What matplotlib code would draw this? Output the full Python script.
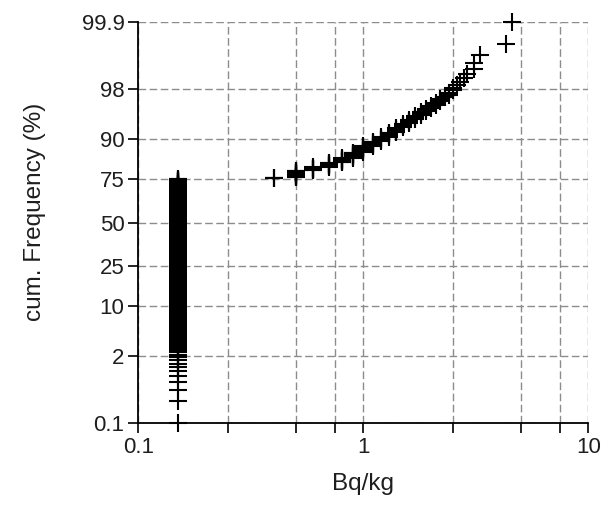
import math
import numpy as np
import matplotlib
matplotlib.use("Agg")
import matplotlib.pyplot as plt
from matplotlib.ticker import FixedLocator, NullLocator, NullFormatter, FixedFormatter

# ---- data: measured activity values (Bq/kg) and number of samples at each value
values = [0.15, 0.4, 0.5, 0.6, 0.7, 0.8, 0.9, 1.0, 1.1, 1.2, 1.3, 1.4, 1.5, 1.6,
          1.7, 1.8, 1.9, 2.0, 2.1, 2.2, 2.3, 2.4, 2.5, 2.6, 2.7, 2.8, 2.9, 3.1,
          3.3, 4.3, 4.6]
counts = [375, 3, 16, 8, 9, 9, 10, 10, 7, 6, 6, 5, 4, 4,
          3, 3, 2, 2, 2, 2, 1, 2, 2, 1, 1, 1, 1, 2,
          1, 1, 1]

y_ticks = [0.1, 2, 10, 25, 50, 75, 90, 98, 99.9]
y_ticklabels = ["0.1", "2", "10", "25", "50", "75", "90", "98", "99.9"]
x_major = [0.1, 1, 10]
x_major_labels = ["0.1", "1", "10"]
x_minor = [0.25, 0.5, 0.75, 2.5, 5, 7.5]

# ---- sorted sample and cumulative frequency (Hazen plotting positions)
sample = np.repeat(np.array(values, float), counts)
n = sample.size
cum_pct = (np.arange(1, n + 1) - 0.5) / n * 100.0


# ---- normal probability scale
def _ppf(p):
    # Acklam's rational approximation of the inverse normal CDF
    a = [-3.969683028665376e+01, 2.209460984245205e+02, -2.759285104469687e+02,
         1.383577518672690e+02, -3.066479806614716e+01, 2.506628277459239e+00]
    b = [-5.447609879822406e+01, 1.615858368580409e+02, -1.556989798598866e+02,
         6.680131188771972e+01, -1.328068155288572e+01]
    c = [-7.784894002430293e-03, -3.223964580411365e-01, -2.400758277161838e+00,
         -2.549732539343734e+00, 4.374664141464968e+00, 2.938163982698783e+00]
    d = [7.784695709041462e-03, 3.224671290700398e-01, 2.445134137142996e+00,
         3.754408661907416e+00]
    p = np.asarray(p, float)
    out = np.empty_like(p)
    plow = 0.02425
    phigh = 1 - plow
    lo = p < plow
    hi = p > phigh
    mid = ~(lo | hi)
    q = np.sqrt(-2 * np.log(p[lo]))
    out[lo] = (((((c[0]*q+c[1])*q+c[2])*q+c[3])*q+c[4])*q+c[5]) / \
              ((((d[0]*q+d[1])*q+d[2])*q+d[3])*q+1)
    q = p[mid] - 0.5
    r = q * q
    out[mid] = (((((a[0]*r+a[1])*r+a[2])*r+a[3])*r+a[4])*r+a[5])*q / \
               (((((b[0]*r+b[1])*r+b[2])*r+b[3])*r+b[4])*r+1)
    q = np.sqrt(-2 * np.log(1 - p[hi]))
    out[hi] = -(((((c[0]*q+c[1])*q+c[2])*q+c[3])*q+c[4])*q+c[5]) / \
               ((((d[0]*q+d[1])*q+d[2])*q+d[3])*q+1)
    return out


_erf = np.vectorize(math.erf, otypes=[float])


def fwd(pct):
    p = np.clip(np.asarray(pct, float) / 100.0, 1e-9, 1 - 1e-9)
    return _ppf(p)


def inv(z):
    z = np.asarray(z, float)
    return 50.0 * (1.0 + _erf(z / math.sqrt(2.0)))


plt.rcParams["font.family"] = ["Liberation Sans", "DejaVu Sans"]
text_col = "#1e1e1e"

fig = plt.figure(figsize=(6.10, 5.05), dpi=100)
ax = fig.add_axes([0.227, 0.1618, 0.7374, 0.7952])

ax.plot(sample, cum_pct, linestyle="none", marker="+", markersize=13.5,
        markeredgewidth=1.5, color="black", clip_on=False, zorder=3)

ax.set_xscale("log")
ax.set_yscale("function", functions=(fwd, inv))
ax.set_xlim(0.1, 10)
ax.set_ylim(0.1, 99.9)

ax.yaxis.set_major_locator(FixedLocator(y_ticks))
ax.yaxis.set_major_formatter(FixedFormatter(y_ticklabels))
ax.yaxis.set_minor_locator(NullLocator())
ax.xaxis.set_major_locator(FixedLocator(x_major))
ax.xaxis.set_major_formatter(FixedFormatter(x_major_labels))
ax.xaxis.set_minor_locator(FixedLocator(x_minor))
ax.xaxis.set_minor_formatter(NullFormatter())

grid_kw = dict(color="#8c8c8c", linewidth=1.0, linestyle=(0, (5.5, 2.5)))
ax.grid(True, which="major", axis="both", **grid_kw)
ax.grid(True, which="minor", axis="x", **grid_kw)
ax.set_axisbelow(True)

for s in ("top", "right"):
    ax.spines[s].set_visible(False)
for s in ("left", "bottom"):
    ax.spines[s].set_linewidth(1.3)
    ax.spines[s].set_color("black")

ax.tick_params(axis="both", which="both", direction="out", length=7,
               width=1.2, color="black", labelsize=16, pad=3,
               labelcolor=text_col)

ax.set_xlabel("Bq/kg", fontsize=17.5, va="center", color=text_col)
ax.xaxis.set_label_coords(0.499, -0.151)
ax.set_ylabel("cum. Frequency (%)", fontsize=17.5, va="center", color=text_col)
ax.yaxis.set_label_coords(-0.231, 0.526)

fig.savefig("out.png", dpi=100)
